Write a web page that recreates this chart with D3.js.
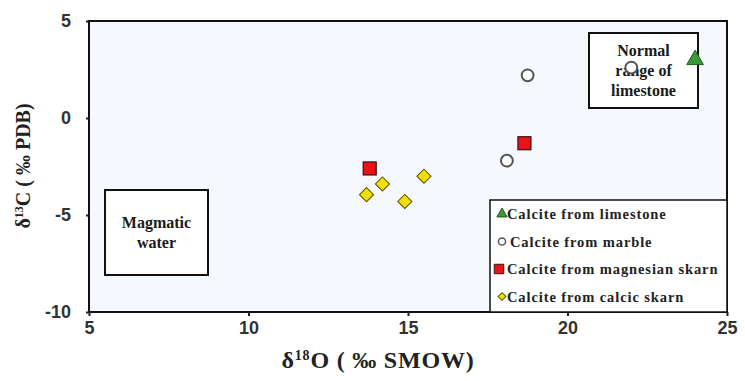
<!DOCTYPE html>
<html>
<head>
<meta charset="utf-8">
<script src="https://cdn.jsdelivr.net/npm/d3@7"></script>
<style>
  body { margin: 0; background: #fff; }
  svg { display: block; }
</style>
</head>
<body>
<div id="chart"></div>
<script>
// data
const limestone = [{ x: 24.0, y: 3.0 }];
const marble = [{ x: 22.0, y: 2.6 }, { x: 18.75, y: 2.2 }, { x: 18.1, y: -2.2 }];
const magnesianSkarn = [{ x: 13.8, y: -2.6 }, { x: 18.65, y: -1.3 }];
const calcicSkarn = [{ x: 13.7, y: -3.95 }, { x: 14.2, y: -3.4 }, { x: 14.9, y: -4.3 }, { x: 15.5, y: -3.0 }];

const xTicks = [5, 10, 15, 20, 25];
const yTicks = [5, 0, -5, -10];
const legendLabels = ["Calcite from limestone", "Calcite from marble", "Calcite from magnesian skarn", "Calcite from calcic skarn"];

const width = 745, height = 381;
const margin = { top: 21, right: 18, bottom: 69, left: 89 };

const svg = d3.select("#chart").append("svg")
    .attr("width", width)
    .attr("height", height);

const x = d3.scaleLinear().domain([5, 25]).range([margin.left, width - margin.right]);
const y = d3.scaleLinear().domain([-10, 5]).range([height - margin.bottom, margin.top]);

// plot area
svg.append("rect")
    .attr("x", x(5)).attr("y", y(5))
    .attr("width", x(25) - x(5)).attr("height", y(-10) - y(5))
    .attr("fill", "#f5f9fd")
    .attr("stroke", "#111")
    .attr("stroke-width", 2);

const tickFont = "Liberation Sans, Arial, sans-serif";

const xAxis = svg.append("g")
    .attr("transform", `translate(0, ${y(-10)})`)
    .call(d3.axisBottom(x).tickValues(xTicks).tickFormat(d => String(d))
        .tickSize(4).tickSizeOuter(0).tickPadding(5));
const yAxis = svg.append("g")
    .attr("transform", `translate(${x(5)}, 0)`)
    .call(d3.axisLeft(y).tickValues(yTicks).tickFormat(d => String(d))
        .tickSize(3).tickSizeOuter(0).tickPadding(15));

[xAxis, yAxis].forEach(g => {
    g.select(".domain").remove();
    g.selectAll("line").attr("stroke", "#222").attr("stroke-width", 2);
    g.selectAll("text")
        .attr("fill", "#333")
        .style("font-family", tickFont)
        .style("font-size", "18px")
        .style("font-weight", "bold");
});
yAxis.selectAll("text").attr("dy", "0.3em");

// annotation boxes
const serif = "Liberation Serif, Times New Roman, serif";

function noteBox(x0, y0, w, h, lines) {
    const g = svg.append("g");
    g.append("rect")
        .attr("x", x0).attr("y", y0).attr("width", w).attr("height", h)
        .attr("fill", "#fff")
        .attr("stroke", "#111")
        .attr("stroke-width", 2);
    const lh = 20;
    const startY = y0 + h / 2 - (lines.length - 1) * lh / 2;
    lines.forEach((t, i) => {
        g.append("text")
            .attr("x", x0 + w / 2)
            .attr("y", startY + i * lh)
            .attr("dy", "0.35em")
            .attr("text-anchor", "middle")
            .style("font-family", serif)
            .style("font-weight", "bold")
            .style("font-size", "16px")
            .attr("fill", "#1a1a1a")
            .text(t);
    });
}

noteBox(105, 190, 103, 85, ["Magmatic", "water"]);
noteBox(589, 33, 109, 75, ["Normal", "range of", "limestone"]);

// symbols
const sq = 13;
function drawSquares(data, fill) {
    svg.append("g").selectAll("rect").data(data).join("rect")
        .attr("x", d => x(d.x) - sq / 2)
        .attr("y", d => y(d.y) - sq / 2)
        .attr("width", sq).attr("height", sq)
        .attr("fill", fill)
        .attr("stroke", "#3a1010")
        .attr("stroke-width", 1.2);
}
function drawSymbols(data, type, size, fill, stroke, sw, rot) {
    svg.append("g").selectAll("path").data(data).join("path")
        .attr("transform", d => `translate(${x(d.x)}, ${y(d.y)}) rotate(${rot || 0})`)
        .attr("d", d3.symbol().type(type).size(size))
        .attr("fill", fill)
        .attr("stroke", stroke)
        .attr("stroke-width", sw);
}

drawSymbols(marble, d3.symbolCircle, 110, "#fff", "#555", 2);
drawSquares(magnesianSkarn, "#e8141a");
drawSymbols(calcicSkarn, d3.symbolSquare, 100, "#f3e000", "#5a5000", 1, 45);
drawSymbols(limestone, d3.symbolTriangle, 120, "#3a9a35", "#1f5a1c", 1);

// legend
const lg = svg.append("g");
lg.append("rect")
    .attr("x", 490).attr("y", 200)
    .attr("width", x(25) - 490).attr("height", y(-10) - 200)
    .attr("fill", "#fff")
    .attr("stroke", "#111")
    .attr("stroke-width", 1.5);

const legendMarks = [
    { type: d3.symbolTriangle, size: 45, fill: "#3a9a35", stroke: "#1f5a1c", rot: 0 },
    { type: d3.symbolCircle, size: 40, fill: "#fff", stroke: "#555", rot: 0 },
    { type: d3.symbolSquare, size: 90, fill: "#e8141a", stroke: "#3a1010", rot: 0 },
    { type: d3.symbolSquare, size: 30, fill: "#f3e000", stroke: "#5a5000", rot: 45 }
];

legendLabels.forEach((label, i) => {
    const ly = 214 + i * 27.5;
    const m = legendMarks[i];
    lg.append("path")
        .attr("transform", `translate(${i === 2 ? 499 : 502}, ${ly}) rotate(${m.rot})`)
        .attr("d", d3.symbol().type(m.type).size(m.size))
        .attr("fill", m.fill)
        .attr("stroke", m.stroke)
        .attr("stroke-width", i === 1 ? 1.5 : 1);
    lg.append("text")
        .attr("x", i === 1 ? 510 : 507)
        .attr("y", ly)
        .attr("dy", "0.35em")
        .style("font-family", serif)
        .style("font-size", "14.5px")
        .style("font-weight", "bold")
        .style("letter-spacing", "0.9px")
        .attr("fill", "#222")
        .text(label);
});

// axis titles
const xt = svg.append("text")
    .attr("x", 378).attr("y", 368)
    .attr("text-anchor", "middle")
    .style("font-family", serif)
    .style("font-weight", "bold")
    .style("font-size", "24px")
    .style("letter-spacing", "0.8px")
    .attr("fill", "#222");
xt.append("tspan").text("δ");
xt.append("tspan").attr("dy", -8).style("font-size", "14px").text("18");
xt.append("tspan").attr("dy", 8).text("O ( ‰ SMOW)");

const yt = svg.append("text")
    .attr("transform", "translate(30, 166) rotate(-90)")
    .attr("text-anchor", "middle")
    .style("font-family", serif)
    .style("font-weight", "bold")
    .style("font-size", "20px")
    .attr("fill", "#222");
yt.append("tspan").text("δ");
yt.append("tspan").attr("dy", -7).style("font-size", "12px").text("13");
yt.append("tspan").attr("dy", 7).text("C ( ‰ PDB)");
</script>
</body>
</html>
